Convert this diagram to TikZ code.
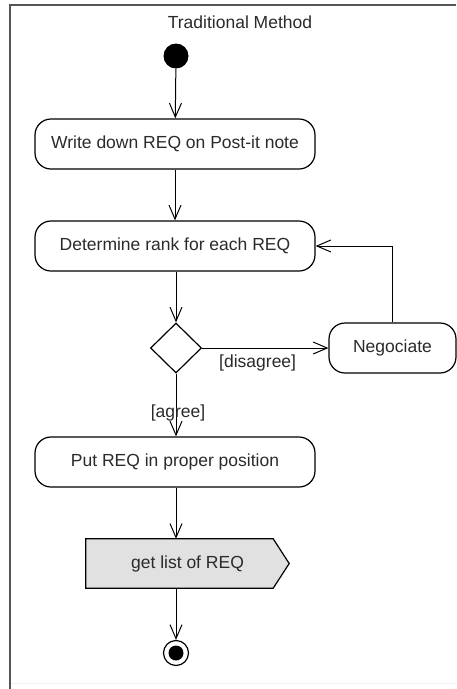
\documentclass[tikz,border=0pt]{standalone}
\usepackage{fontspec}
\setmainfont{Liberation Sans}
\usetikzlibrary{arrows.meta,shapes.geometric,backgrounds}

\definecolor{framegray}{HTML}{555555}
\definecolor{txtgray}{HTML}{2A2A2A}
\definecolor{sigfill}{HTML}{E1E1E1}

\tikzset{
    action/.style={draw, line width=1.2pt, rounded corners=16pt, minimum height=50pt, inner sep=0pt},
    decision/.style={diamond, draw, line width=1.2pt, minimum width=51pt, minimum height=50pt, inner sep=0pt},
    startnode/.style={circle, fill=black, minimum size=25pt, inner sep=0pt},
    sigbox/.style={minimum width=203pt, minimum height=49pt, inner sep=0pt},
    flow/.style={-{Straight Barb[length=14pt,width=12pt]}, line width=1pt},
    guard/.style={text=txtgray, inner sep=1pt}
}

\begin{document}
\begin{tikzpicture}[x=1pt, y=-1pt, font=\fontsize{17.5}{21}\selectfont, text=txtgray]
    \useasboundingbox (0,0) rectangle (456,689);

    % Frame
    \draw[framegray, line width=1.5pt] (456,5) -- (10,5) -- (10,689);
    \draw[black!6, line width=1pt] (11,683) -- (456,683);
    \node (title) at (240,22) {Traditional Method};

    % Nodes
    \node[startnode] (init) at (176,56) {};
    \node[action, minimum width=280pt] (write) at (175,144) {Write down REQ on Post-it note};
    \node[action, minimum width=280pt] (rank) at (175,246) {Determine rank for each REQ};
    \node[decision] (dec) at (176,348) {};
    \node[action, minimum width=127pt] (nego) at (392.5,348) {Negociate};
    \node[action, minimum width=280pt] (put) at (175,462) {Put REQ in proper position};
    \node[sigbox] (sig) at (187.5,563.5) {get list of REQ};
    \begin{scope}[on background layer]
        \filldraw[fill=sigfill, line width=1.2pt] (sig.north west) -- ([xshift=-16pt]sig.north east)
            -- (sig.east) -- ([xshift=-16pt]sig.south east) -- (sig.south west) -- cycle;
    \end{scope}
    \node[circle, draw, line width=1.2pt, minimum size=25pt, inner sep=0pt] (fin) at (176,653) {};
    \fill (fin) circle (7.5pt);

    % Flows
    \draw[flow] (init) -- (write);
    \draw[flow] (write) -- (rank);
    \draw[flow] (rank.south -| dec) -- (dec);
    \draw[flow] (dec) -- node[guard, below, pos=0.44, yshift=-5pt] {[disagree]} (nego);
    \draw[flow] (nego.north) |- (rank.east);
    \draw[flow] (dec) -- node[guard, pos=0.62, xshift=2pt] {[agree]} (put.north -| dec);
    \draw[flow] (put.south -| dec) -- (sig.north -| dec);
    \draw[flow] (sig.south -| fin) -- (fin);
\end{tikzpicture}
\end{document}
